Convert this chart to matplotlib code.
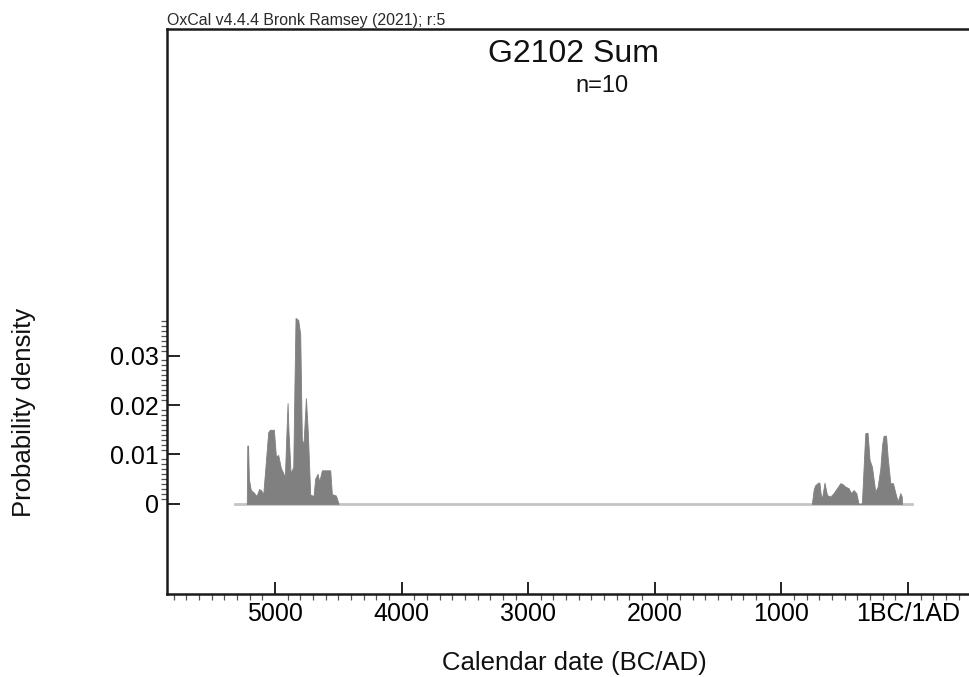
import numpy as np
import matplotlib.pyplot as plt
from matplotlib.ticker import FixedLocator, MultipleLocator

plt.rcParams['font.family'] = ['Liberation Sans', 'DejaVu Sans']

# summed probability, first cluster (years BC, density)
early_bc = [5222, 5218, 5212, 5205, 5190, 5170, 5145, 5125, 5110, 5092, 5070, 5053,
            5039, 5008, 4992, 4974, 4953, 4921, 4908, 4900, 4893, 4876, 4855, 4845,
            4837, 4816, 4800, 4787, 4774, 4762, 4755, 4740, 4721, 4695, 4682, 4663,
            4650, 4629, 4563, 4550, 4518, 4497]
early_p = [0, 0.0118, 0.0118, 0.005, 0.0028, 0.0024, 0.0016, 0.003, 0.0028, 0.002, 0.009, 0.0145,
           0.015, 0.015, 0.0096, 0.0099, 0.0073, 0.0055, 0.015, 0.0204, 0.015, 0.0062, 0.0075, 0.025,
           0.0376, 0.0372, 0.0343, 0.0129, 0.0122, 0.018, 0.0214, 0.0145, 0.0019, 0.0016, 0.0051, 0.0061,
           0.0045, 0.0068, 0.0068, 0.002, 0.0017, 0]

# second cluster (years BC, density)
late_bc = [760, 745, 733, 710, 700, 690, 680, 668, 660, 650, 640, 614, 588, 561, 535, 517,
           496, 470, 451, 430, 409, 395, 391, 365, 350, 338, 320, 304, 285, 259, 240, 219,
           205, 193, 174, 161, 140, 119, 100, 82, 61, 50, 48]
late_p = [0, 0.003, 0.0038, 0.0043, 0.0043, 0.002, 0.0011, 0.003, 0.0043, 0.003, 0.0018, 0.0015,
          0.0022, 0.0032, 0.0042, 0.004, 0.0035, 0.0032, 0.0022, 0.0028, 0.0022, 0.0005, 0, 0.0001,
          0.008, 0.0143, 0.0144, 0.0089, 0.0075, 0.0025, 0.0035, 0.0072, 0.012, 0.0138, 0.0138,
          0.0094, 0.0042, 0.0042, 0.0022, 0.0005, 0.0022, 0.0015, 0]

baseline_bc = [5316, -30]
tick_years = [-5000, -4000, -3000, -2000, -1000, 0]
tick_labels = ['5000', '4000', '3000', '2000', '1000', '1BC/1AD']
ytick_vals = [0, 0.01, 0.02, 0.03]
ytick_labels = ['0', '0.01', '0.02', '0.03']

W, H = 970, 677
fig = plt.figure(figsize=(W / 100, H / 100), dpi=100)
ax = fig.add_axes([167 / W, 1 - 594 / H, (W - 167) / W, (594 - 29) / H])

ax.plot(-np.array(baseline_bc), [0, 0], color='#c4c4c4', lw=2, zorder=1)
ax.fill_between(-np.array(early_bc), early_p, 0, color='#808080', lw=0.6, edgecolor='#808080', zorder=2)
ax.fill_between(-np.array(late_bc), late_p, 0, color='#808080', lw=0.6, edgecolor='#808080', zorder=2)

ax.set_xlim(-5852, 489)
ax.set_ylim(-0.0182, 0.096)

ax.set_xticks(tick_years)
ax.set_xticklabels(tick_labels, fontsize=18)
ax.xaxis.set_minor_locator(MultipleLocator(100))
ax.set_yticks(ytick_vals)
ax.set_yticklabels(ytick_labels, fontsize=18)
ax.yaxis.set_minor_locator(FixedLocator(np.arange(0, 0.0375, 0.001)))

ax.tick_params(direction='in', width=1.4, color='#222222', pad=6)
ax.tick_params(which='major', length=9)
ax.tick_params(which='minor', length=4.5, width=0.9, color='#555555')

for s in ['left', 'top', 'bottom']:
    ax.spines[s].set_linewidth(1.8)
    ax.spines[s].set_color('#1a1a1a')
ax.spines['right'].set_visible(False)

fig.text(167 / W, 1 - 28 / H, 'OxCal v4.4.4 Bronk Ramsey (2021); r:5', fontsize=11.4,
         ha='left', va='bottom', color='#2a2a2a')
fig.text(573 / W, 1 - 54 / H, 'G2102 Sum', fontsize=23, ha='center', va='center', color='#111111')
fig.text(575 / W, 1 - 86 / H, 'n=10', fontsize=17, ha='left', va='center', color='#111111')
fig.text(574 / W, 1 - 663 / H, 'Calendar date (BC/AD)', fontsize=18.5, ha='center', va='center', color='#111111')
fig.text(24 / W, 1 - 412 / H, 'Probability density', fontsize=18.5, rotation=90,
         ha='center', va='center', color='#111111')

fig.savefig('out.png', dpi=100)
